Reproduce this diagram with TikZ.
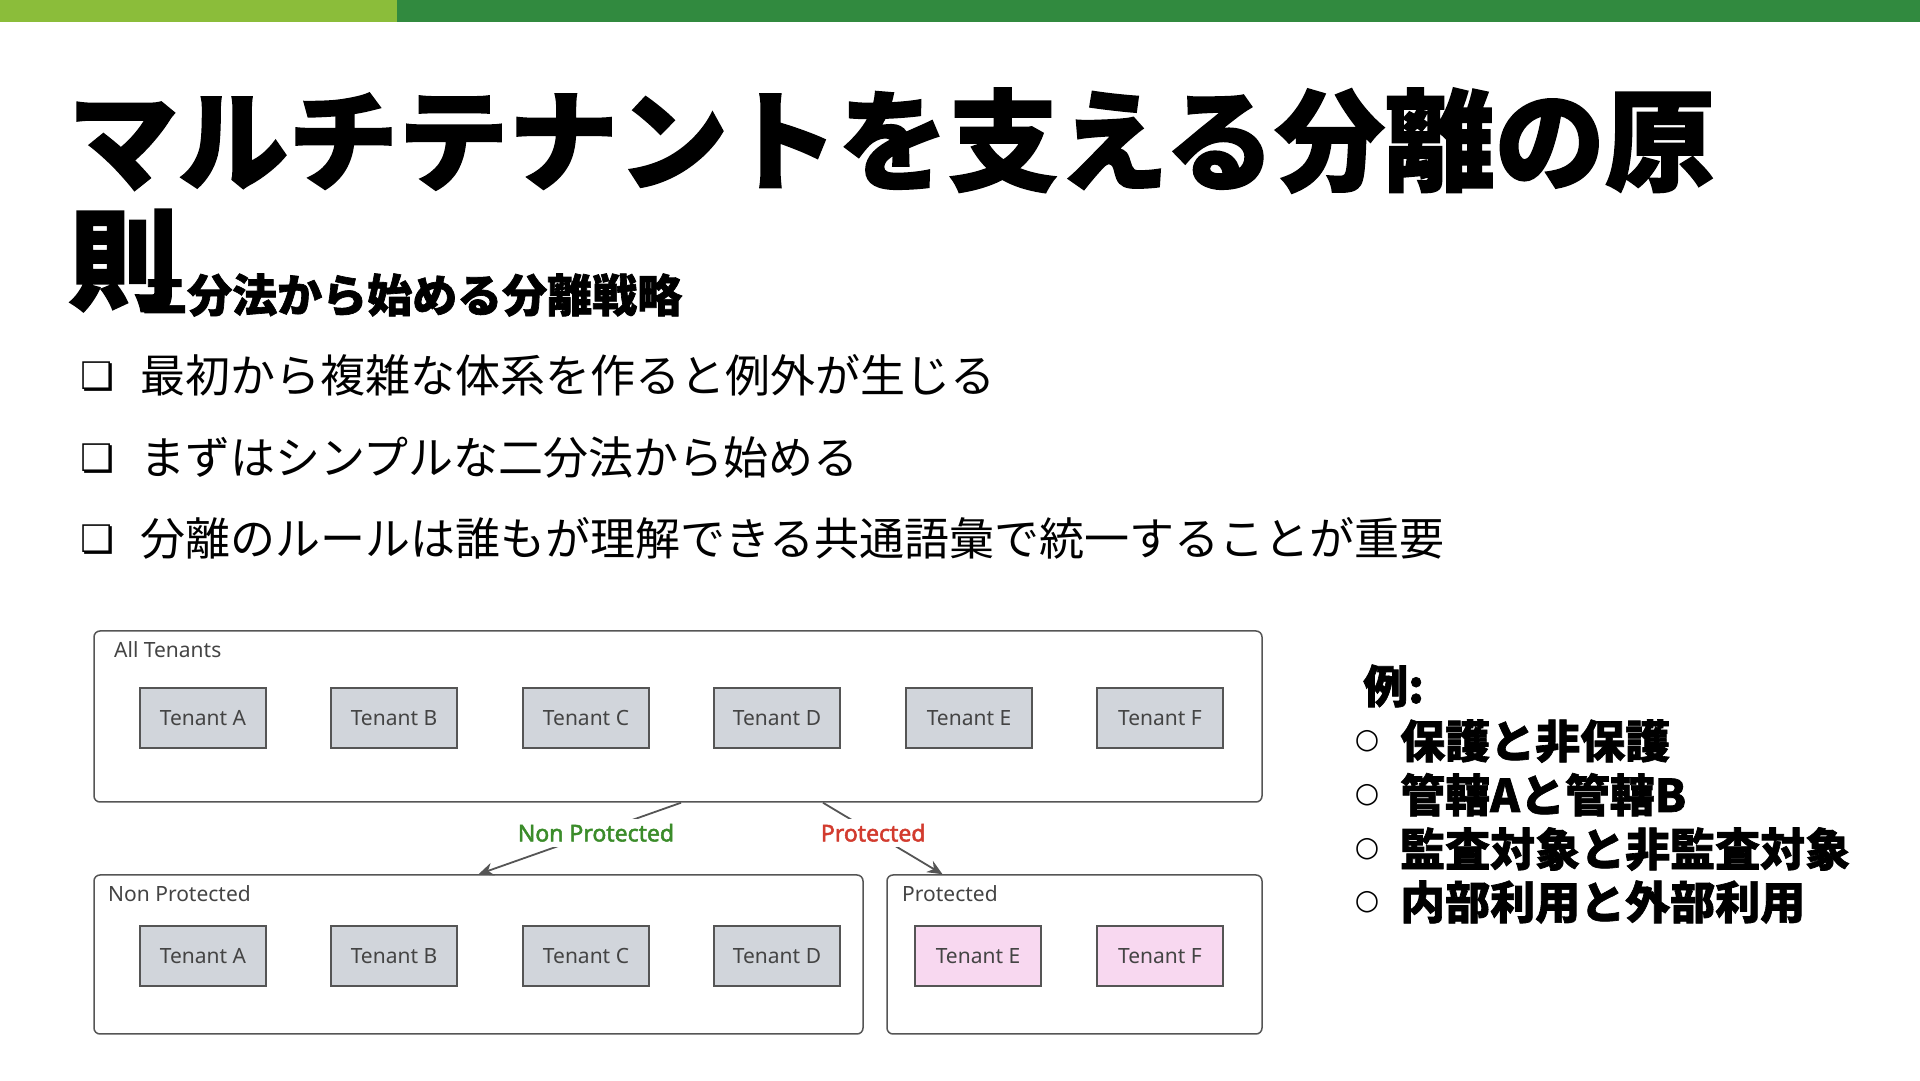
\documentclass[tikz,border=0pt]{standalone}
\usepackage{fontspec}
\usetikzlibrary{arrows.meta,positioning}
\newfontfamily\jpfont{Noto Sans CJK JP}
\newfontfamily\jpheavy{Noto Sans CJK JP}[BoldFeatures={FakeBold=1.5}]
\newfontfamily\latinsans{Noto Sans}
\newfontfamily\latinbold{Noto Sans}[FakeBold=2.2]
\newfontfamily\symfont{DejaVu Sans}
\definecolor{barlight}{HTML}{8BBD3A}
\definecolor{bardark}{HTML}{318A3F}
\definecolor{edgegray}{HTML}{555555}
\definecolor{labelgray}{HTML}{444444}
\definecolor{tenantgray}{HTML}{D1D5DB}
\definecolor{tenantpink}{HTML}{F8D8F0}
\definecolor{npgreen}{HTML}{3B8C2A}
\definecolor{pred}{HTML}{D23B2E}
\begin{document}
\begin{tikzpicture}[x=1pt, y=1pt,
  tenant/.style={draw=edgegray,line width=1.5pt,fill=tenantgray,minimum width=126pt,minimum height=60pt,inner sep=0pt,
    text=labelgray,font=\latinsans\fontsize{21}{24}\selectfont},
  group/.style={draw=edgegray,line width=1.5pt,rounded corners=6pt,inner sep=0pt},
  grouplabel/.style={anchor=base west,inner sep=0pt,text=labelgray,font=\latinsans\fontsize{21}{24}\selectfont},
  item/.style={anchor=base west,inner sep=0pt,font=\jpfont\fontsize{45}{54}\selectfont},
  heavy/.style={anchor=base west,inner sep=0pt,font=\jpheavy\bfseries\fontsize{45}{54}\selectfont},
  sqbullet/.style={inner sep=0pt,font=\symfont\bfseries\fontsize{38}{40}\selectfont},
  circbullet/.style={inner sep=0pt,font=\symfont\fontsize{28}{30}\selectfont},
  arr/.style={draw=edgegray,line width=1.8pt,-{Stealth[length=15pt,width=13pt]}},
  cut/.style={fill=white,inner sep=5pt,font=\latinbold\fontsize{23}{26}\selectfont}]
\useasboundingbox (0,0) rectangle (1920,1081);
% top bar
\fill[barlight] (0,1059) rectangle (397,1081);
\fill[bardark] (397,1059) rectangle (1920,1081);
% title
\node[heavy,font=\jpheavy\bfseries\fontsize{110}{119}\selectfont] (title) at (68,899) {マルチテナントを支える分離の原};
\node[heavy,font=\jpheavy\bfseries\fontsize{110}{119}\selectfont,anchor=base west] (title2) at ([yshift=-119pt]title.base west) {則};
\node[heavy] (subtitle) at (142,769) {二分法から始める分離戦略};
% bullets
\node[sqbullet] (b1) at (98,704) {❏};
\node[item] (t1) at (140,688) {最初から複雑な体系を作ると例外が生じる};
\node[sqbullet] (b2) at (98,622) {❏};
\node[item] (t2) at (140,606) {まずはシンプルな二分法から始める};
\node[sqbullet] (b3) at (98,541) {❏};
\node[item] (t3) at (140,525) {分離のルールは誰もが理解できる共通語彙で統一することが重要};
% all tenants
\node[group,minimum width=1168pt,minimum height=171pt] (all) at (678,364.5) {};
\node[grouplabel] (alllbl) at (114,423) {All Tenants};
\node[tenant] (ta) at (203,363) {Tenant A};
\node[tenant] (tb) at (394,363) {Tenant B};
\node[tenant] (tc) at (586,363) {Tenant C};
\node[tenant] (td) at (777,363) {Tenant D};
\node[tenant] (te) at (969,363) {Tenant E};
\node[tenant] (tf) at (1160,363) {Tenant F};
% split groups
\node[group,minimum width=769pt,minimum height=159pt] (nonprot) at (478.5,126.5) {};
\node[grouplabel] (nplbl) at (108,179) {Non Protected};
\node[tenant] (na) at (203,125) {Tenant A};
\node[tenant] (nb) at (394,125) {Tenant B};
\node[tenant] (nc) at (586,125) {Tenant C};
\node[tenant] (nd) at (777,125) {Tenant D};
\node[group,minimum width=375pt,minimum height=159pt] (prot) at (1074.5,126.5) {};
\node[grouplabel] (plbl) at (902,179) {Protected};
\node[tenant,fill=tenantpink] (pe) at (978,125) {Tenant E};
\node[tenant,fill=tenantpink] (pf) at (1160,125) {Tenant F};
% arrows
\draw[arr] ([xshift=3pt]all.south) -- (nonprot.north) node[cut,pos=0.42,text=npgreen] (nptag) {Non Protected};
\draw[arr] ([xshift=145pt]all.south) -- ([xshift=-132pt]prot.north) node[cut,pos=0.42,text=pred] (ptag) {Protected};
% examples
\node[heavy] (ex) at (1363,378) {例:};
\node[circbullet] (o1) at (1367,340) {○};
\node[heavy] (e1) at (1400,323) {保護と非保護};
\node[circbullet] (o2) at (1367,286) {○};
\node[heavy] (e2) at (1400,269) {管轄Aと管轄B};
\node[circbullet] (o3) at (1367,232) {○};
\node[heavy] (e3) at (1400,215) {監査対象と非監査対象};
\node[circbullet] (o4) at (1367,179) {○};
\node[heavy] (e4) at (1400,162) {内部利用と外部利用};
\end{tikzpicture}
\end{document}
